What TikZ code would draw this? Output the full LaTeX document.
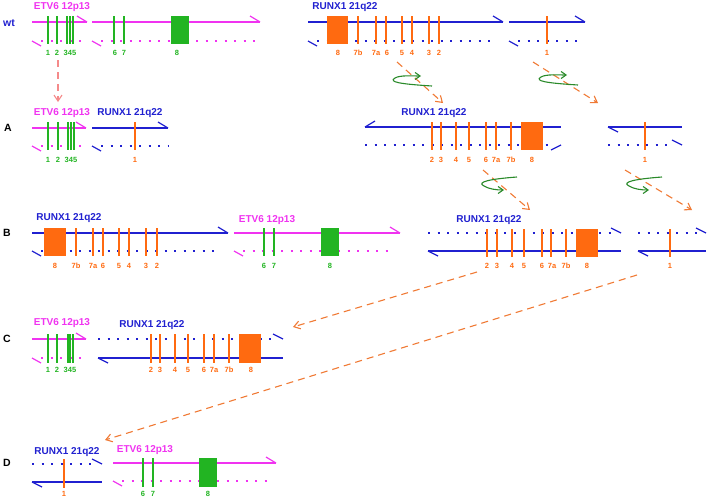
\documentclass[tikz,border=0pt]{standalone}
\usepackage{fontspec}
\setmainfont{Liberation Sans}
\usetikzlibrary{arrows.meta}
\definecolor{mg}{HTML}{F033F0}
\definecolor{bl}{HTML}{2020D0}
\definecolor{gr}{HTML}{22B422}
\definecolor{og}{HTML}{FF6A10}
\definecolor{da}{HTML}{F07A35}
\definecolor{sa}{HTML}{F58A8A}
\definecolor{lp}{HTML}{2A8A2A}
\tikzset{
 sol/.style={line width=2.2pt},
 dotl/.style={line width=2pt, dash pattern=on 2pt off 7.5pt},
 brb/.style={line width=1.2pt},
 exl/.style={line width=1.7pt},
 gene/.style={font=\bfseries\fontsize{10}{11}\selectfont, inner sep=0pt},
 num/.style={font=\bfseries\fontsize{7.5}{8}\selectfont, inner sep=0pt},
 rowl/.style={font=\bfseries\fontsize{10.5}{11}\selectfont, inner sep=0pt},
 darr/.style={da, line width=1.1pt, dash pattern=on 7pt off 5pt, -{Straight Barb[length=6pt,width=8pt]}},
 loopa/.style={lp, line width=1.1pt, -{Straight Barb[length=5pt,width=7pt]}},
}
% solid strand, upper barb at right
\newcommand\SR[4]{\draw[sol,#1] (#2,#4) -- (#3,#4); \draw[brb,#1] (#3,#4) -- ++(-10,-6);}
% solid strand, upper barb at left
\newcommand\SLu[4]{\draw[sol,#1] (#2,#4) -- (#3,#4); \draw[brb,#1] (#2,#4) -- ++(10,-6);}
% solid strand, lower barb at left
\newcommand\SLd[4]{\draw[sol,#1] (#2,#4) -- (#3,#4); \draw[brb,#1] (#2,#4) -- ++(10,5);}
% dotted strand, lower barb at left
\newcommand\DLd[4]{\draw[dotl,#1] (#2+9,#4) -- (#3,#4); \draw[brb,#1] (#2,#4) -- ++(9,5);}
% dotted strand, upper barb at right
\newcommand\DRu[4]{\draw[dotl,#1] (#2,#4) -- (#3-9,#4); \draw[brb,#1] (#3,#4) -- ++(-10,-5);}
% dotted strand, lower barb at right
\newcommand\DRd[4]{\draw[dotl,#1] (#2,#4) -- (#3-9,#4); \draw[brb,#1] (#3,#4) -- ++(-10,5);}
\begin{document}
\begin{tikzpicture}[x=1pt,y=-1pt]
\useasboundingbox (0,0) rectangle (709,498);

% ================= wt =================
\node[rowl,bl] (lwt) at (9,23) {wt};
\node[gene,mg] (tE0) at (62,7) {ETV6 12p13};
\node[gene,bl] (tR0) at (345,7) {RUNX1 21q22};
\SR{mg}{32}{87}{22} \DLd{mg}{32}{87}{41}
\SR{mg}{92}{260}{22} \DLd{mg}{92}{260}{41}
\SR{bl}{308}{503}{22} \DLd{bl}{308}{497}{41}
\SR{bl}{509}{585}{22} \DLd{bl}{509}{580}{41}
\foreach \x in {48,57,67,70,73,114,124} \draw[exl,gr] (\x,16) -- (\x,44);
\fill[gr] (171,16) rectangle (189,44);
\foreach \x in {358,376,386,402,412,429,439,547} \draw[exl,og] (\x,16) -- (\x,44);
\fill[og] (327,16) rectangle (348,44);
\foreach \x/\t [count=\i] in {48/1,57/2,70/345,115/6,124/7,177/8}
  \node[num,gr] (w\i) at (\x,53) {\t};
\foreach \x/\t [count=\i] in {338/8,358/7b,376/7a,387/6,402/5,412/4,429/3,439/2,547/1}
  \node[num,og] (wr\i) at (\x,53) {\t};

% arrows wt -> A
\coordinate (p0) at (58,60); \coordinate (p1) at (58,102);
\draw[darr,sa] (p0) -- (p1);
\coordinate (q0) at (397,62); \coordinate (q1) at (443,103);
\draw[darr] (q0) -- (q1);
\coordinate (r0) at (533,62); \coordinate (r1) at (598,103);
\draw[darr] (r0) -- (r1);
\draw[loopa] (432,86) .. controls (400,84) and (388,82) .. (395,78) .. controls (400,75) and (412,76) .. (421,76);
\draw[loopa] (578,85) .. controls (546,83) and (534,81) .. (541,77) .. controls (546,74) and (558,75) .. (567,75);

% ================= A =================
\node[rowl] (lA) at (8,128) {A};
\node[gene,mg] (tE1) at (62,113) {ETV6 12p13};
\node[gene,bl] (tR1) at (130,113) {RUNX1 21q22};
\node[gene,bl] (tR2) at (434,113) {RUNX1 21q22};
\SR{mg}{32}{86}{128} \DLd{mg}{32}{86}{146}
\SR{bl}{92}{168}{128} \DLd{bl}{92}{168}{146}
\SLu{bl}{365}{561}{127} \DRd{bl}{365}{561}{145}
\SLd{bl}{608}{682}{127} \DRu{bl}{608}{682}{145}
\foreach \x in {48,58,68,71,74} \draw[exl,gr] (\x,122) -- (\x,150);
\foreach \x in {135,432,441,456,469,486,496,511,645} \draw[exl,og] (\x,122) -- (\x,150);
\fill[og] (521,122) rectangle (543,150);
\foreach \x/\t [count=\i] in {48/1,58/2,71/345}
  \node[num,gr] (a\i) at (\x,160) {\t};
\foreach \x/\t [count=\i] in {135/1,432/2,441/3,456/4,469/5,486/6,496/7a,511/7b,532/8,645/1}
  \node[num,og] (ar\i) at (\x,160) {\t};

% arrows A -> B
\coordinate (s0) at (483,170); \coordinate (s1) at (530,210);
\draw[darr] (s0) -- (s1);
\coordinate (t0) at (625,170); \coordinate (t1) at (692,210);
\draw[darr] (t0) -- (t1);
\draw[loopa] (517,177) .. controls (490,179) and (476,182) .. (484,186) .. controls (489,189) and (496,190) .. (504,190);
\draw[loopa] (662,177) .. controls (635,179) and (621,182) .. (629,186) .. controls (634,189) and (641,190) .. (649,190);

% ================= B =================
\node[rowl] (lB) at (7,233) {B};
\node[gene,bl] (tR3) at (69,218) {RUNX1 21q22};
\node[gene,mg] (tE2) at (267,220) {ETV6 12p13};
\node[gene,bl] (tR4) at (489,220) {RUNX1 21q22};
\SR{bl}{32}{228}{233} \DLd{bl}{32}{221}{251}
\SR{mg}{234}{400}{233} \DLd{mg}{234}{395}{251}
\DRu{bl}{428}{621}{233} \SLd{bl}{428}{621}{251}
\DRu{bl}{638}{706}{233} \SLd{bl}{638}{706}{251}
\foreach \x in {76,93,103,119,129,146,157} \draw[exl,og] (\x,228) -- (\x,256);
\fill[og] (44,228) rectangle (66,256);
\foreach \x in {264,274} \draw[exl,gr] (\x,228) -- (\x,256);
\fill[gr] (321,228) rectangle (339,256);
\foreach \x in {487,497,512,524,542,551,566,670} \draw[exl,og] (\x,229) -- (\x,257);
\fill[og] (576,229) rectangle (598,257);
\foreach \x/\t [count=\i] in {55/8,76/7b,93/7a,103/6,119/5,129/4,146/3,157/2,487/2,497/3,512/4,524/5,542/6,552/7a,566/7b,587/8,670/1}
  \node[num,og] (b\i) at (\x,266) {\t};
\foreach \x/\t [count=\i] in {264/6,274/7,330/8}
  \node[num,gr] (bg\i) at (\x,266) {\t};

% arrows B -> C, B -> D
\coordinate (u0) at (477,272); \coordinate (u1) at (293,327);
\draw[darr] (u0) -- (u1);
\coordinate (v0) at (637,275); \coordinate (v1) at (105,440);
\draw[darr] (v0) -- (v1);

% ================= C =================
\node[rowl] (lC) at (7,339) {C};
\node[gene,mg] (tE3) at (62,323) {ETV6 12p13};
\node[gene,bl] (tR5) at (152,325) {RUNX1 21q22};
\SR{mg}{32}{86}{339} \DLd{mg}{32}{82}{358}
\DRu{bl}{98}{283}{339} \SLd{bl}{98}{283}{358}
\foreach \x in {48,57,68,70,73} \draw[exl,gr] (\x,334) -- (\x,363);
\foreach \x in {151,160,175,188,204,214,229} \draw[exl,og] (\x,334) -- (\x,363);
\fill[og] (239,334) rectangle (261,363);
\foreach \x/\t [count=\i] in {48/1,57/2,70/345}
  \node[num,gr] (c\i) at (\x,370) {\t};
\foreach \x/\t [count=\i] in {151/2,160/3,175/4,188/5,204/6,214/7a,229/7b,251/8}
  \node[num,og] (cr\i) at (\x,370) {\t};

% ================= D =================
\node[rowl] (lD) at (7,463) {D};
\node[gene,bl] (tR6) at (67,452) {RUNX1 21q22};
\node[gene,mg] (tE4) at (145,450) {ETV6 12p13};
\DRu{bl}{32}{102}{464} \SLd{bl}{32}{102}{482}
\SR{mg}{113}{276}{463} \DLd{mg}{113}{273}{481}
\draw[exl,og] (64,459) -- (64,488);
\foreach \x in {143,153} \draw[exl,gr] (\x,458) -- (\x,487);
\fill[gr] (199,458) rectangle (217,487);
\node[num,og] (d1) at (64,494) {1};
\foreach \x/\t [count=\i] in {143/6,153/7,208/8}
  \node[num,gr] (dg\i) at (\x,494) {\t};
\end{tikzpicture}
\end{document}
